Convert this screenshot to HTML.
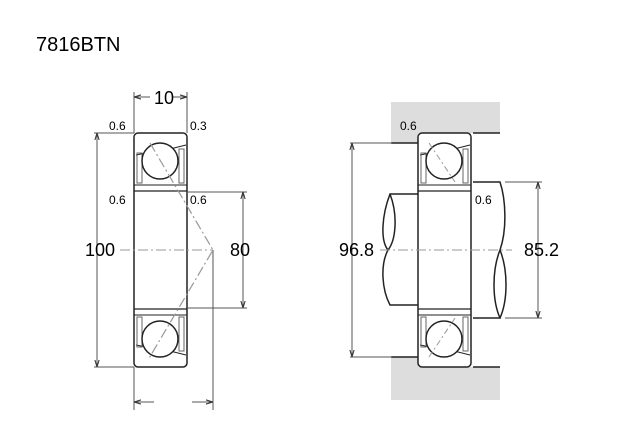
<!DOCTYPE html>
<html><head><style>
body{margin:0;background:#fff;width:640px;height:440px;overflow:hidden}
svg{position:absolute;left:0;top:0}
text{font-family:"Liberation Sans",sans-serif;fill:#000}
</style></head><body>
<svg width="640" height="440" viewBox="0 0 640 440">
<defs>
<marker id="a" viewBox="0 0 10 10" refX="10" refY="5" markerWidth="7" markerHeight="7" orient="auto-start-reverse"><path d="M0,2 L10,5 L0,8" fill="none" stroke="#333" stroke-width="1.5"/></marker>
<g id="brg">
 <rect x="0" y="0" width="53" height="234" rx="4" fill="#fff" stroke="#222" stroke-width="1.5"/>
 <line x1="0" y1="58" x2="53" y2="58" stroke="#222" stroke-width="1.3"/>
 <line x1="0" y1="176" x2="53" y2="176" stroke="#222" stroke-width="1.3"/>
 <line x1="0" y1="52" x2="53" y2="52" stroke="#222" stroke-width="1"/>
 <line x1="0" y1="182" x2="53" y2="182" stroke="#222" stroke-width="1"/>
 <path d="M2,22 L12,20 M36,16 L52,12 M2,212 L12,214 M36,218 L52,222" stroke="#222" fill="none"/>
 <rect x="3" y="20" width="5" height="30" fill="none" stroke="#666"/>
 <rect x="45" y="16" width="5" height="34" fill="none" stroke="#666"/>
 <rect x="3" y="184" width="5" height="30" fill="none" stroke="#666"/>
 <rect x="45" y="184" width="5" height="34" fill="none" stroke="#666"/>
 <circle cx="26" cy="28" r="18" fill="#fff" stroke="#222" stroke-width="1.5"/>
 <circle cx="26" cy="206" r="18" fill="#fff" stroke="#222" stroke-width="1.5"/>
</g>
</defs>
<text x="36" y="51" font-size="20">7816BTN</text>

<!-- left -->
<use href="#brg" x="134" y="133"/>
<polyline points="150,143 213,250 148,360" fill="none" stroke="#999" stroke-width="1.2" stroke-dasharray="10,3,2,3"/>
<line x1="120" y1="250" x2="213" y2="250" stroke="#999" stroke-dasharray="10,3,2,3"/>
<g stroke="#555" stroke-width="1" fill="none">
<line x1="134" y1="92" x2="134" y2="133"/><line x1="187" y1="92" x2="187" y2="133"/>
<line x1="134" y1="97" x2="150" y2="97" marker-start="url(#a)"/><line x1="172" y1="97" x2="187" y2="97" marker-end="url(#a)"/>
<line x1="94" y1="133" x2="134" y2="133"/><line x1="94" y1="367" x2="134" y2="367"/>
<line x1="97" y1="133" x2="97" y2="367" marker-start="url(#a)" marker-end="url(#a)"/>
<line x1="187" y1="192" x2="247" y2="192"/><line x1="187" y1="308" x2="247" y2="308"/>
<line x1="243" y1="192" x2="243" y2="308" marker-start="url(#a)" marker-end="url(#a)"/>
<line x1="134" y1="367" x2="134" y2="410"/><line x1="213" y1="250" x2="213" y2="410"/>
<line x1="134" y1="402" x2="154" y2="402" marker-start="url(#a)"/><line x1="192" y1="402" x2="213" y2="402" marker-end="url(#a)"/>
</g>
<text x="154" y="104" font-size="18">10</text>
<text x="109" y="130" font-size="12">0.6</text><text x="190" y="130" font-size="12">0.3</text>
<text x="109" y="204" font-size="12">0.6</text><text x="190" y="204" font-size="12">0.6</text>
<text x="85" y="256" font-size="18">100</text><text x="230" y="256" font-size="18">80</text>

<!-- right -->
<path d="M391,102 H500 V133 H418 V143 H391 Z" fill="#ddd"/>
<path d="M391,400 H500 V367 H418 V357 H391 Z" fill="#ddd"/>
<g stroke="#222" stroke-width="1.5" fill="none">
<line x1="391" y1="143" x2="418" y2="143"/><line x1="473" y1="133" x2="500" y2="133"/>
<line x1="391" y1="357" x2="418" y2="357"/><line x1="473" y1="367" x2="500" y2="367"/>
<path d="M421,194 H390 C382,215 380,240 388,250 C380,265 382,290 390,305 H421" fill="#fff"/>
<path d="M473,182 H500 C506,200 507,230 500,250 C492,270 492,300 500,318 H473" fill="#fff"/>
<path d="M390,194 C398,215 396,240 388,250 M500,250 C508,270 508,300 500,318"/>
</g>
<use href="#brg" x="418" y="133"/>
<line x1="429" y1="143" x2="455" y2="182" stroke="#999" stroke-dasharray="6,3,2,3"/>
<line x1="429" y1="357" x2="455" y2="318" stroke="#999" stroke-dasharray="6,3,2,3"/>
<line x1="380" y1="250" x2="512" y2="250" stroke="#999" stroke-dasharray="10,3,2,3"/>
<g stroke="#555" stroke-width="1" fill="none">
<line x1="350" y1="143" x2="392" y2="143"/><line x1="350" y1="357" x2="392" y2="357"/>
<line x1="352" y1="143" x2="352" y2="357" marker-start="url(#a)" marker-end="url(#a)"/>
<line x1="505" y1="182" x2="542" y2="182"/><line x1="505" y1="318" x2="542" y2="318"/>
<line x1="538" y1="182" x2="538" y2="318" marker-start="url(#a)" marker-end="url(#a)"/>
</g>
<text x="400" y="130" font-size="12">0.6</text><text x="475" y="204" font-size="12">0.6</text>
<text x="339" y="256" font-size="18">96.8</text><text x="524" y="256" font-size="18">85.2</text>
</svg>
</body></html>
